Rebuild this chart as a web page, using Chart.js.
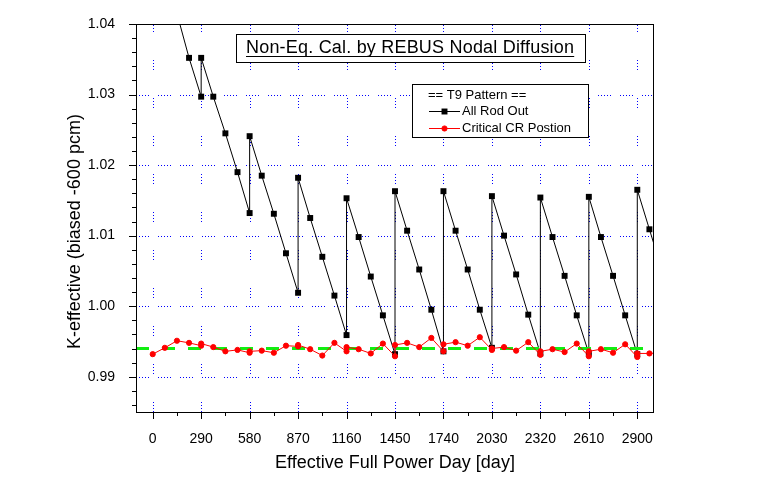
<!DOCTYPE html>
<html>
<head>
<meta charset="utf-8">
<script src="https://cdn.jsdelivr.net/npm/chart.js@4/dist/chart.umd.min.js"></script>
<style>
  html, body { margin: 0; padding: 0; background: #ffffff; }
  #c { display: block; }
</style>
</head>
<body>
<canvas id="c" width="765" height="479" style="width:765px;height:479px"></canvas>
<script>
// ---------------- DATA ----------------
const chartTitle = 'Non-Eq. Cal. by REBUS Nodal Diffusion';
const legendHeader = '== T9 Pattern ==';
const xAxisTitle = 'Effective Full Power Day [day]';
const yAxisTitle = 'K-effective (biased -600 pcm)';

const xTickValues = [0, 290, 580, 870, 1160, 1450, 1740, 2030, 2320, 2610, 2900];
const xMinorTickValues = [145, 435, 725, 1015, 1305, 1595, 1885, 2175, 2465, 2755];
const yTickValues = [0.99, 1.00, 1.01, 1.02, 1.03, 1.04];
const yMinorTickValues = [0.986, 0.988, 0.992, 0.994, 0.996, 0.998, 1.002, 1.004, 1.006, 1.008,
  1.012, 1.014, 1.016, 1.018, 1.022, 1.024, 1.026, 1.028, 1.032, 1.034, 1.036, 1.038];

const rodOutLabel = 'All Rod Out';
const rodOutDays = [0, 72.5, 145, 217.5, 290,
  290, 362.5, 435, 507.5, 580,
  580, 652.5, 725, 797.5, 870,
  870, 942.5, 1015, 1087.5, 1160,
  1160, 1232.5, 1305, 1377.5, 1450,
  1450, 1522.5, 1595, 1667.5, 1740,
  1740, 1812.5, 1885, 1957.5, 2030,
  2030, 2102.5, 2175, 2247.5, 2320,
  2320, 2392.5, 2465, 2537.5, 2610,
  2610, 2682.5, 2755, 2827.5, 2900,
  2900, 2972.5, 3045];
const rodOutK = [1.0535, 1.0475, 1.0415, 1.0352, 1.0297,
  1.0352, 1.0297, 1.0245, 1.0190, 1.0132,
  1.0241, 1.0185, 1.0131, 1.0075, 1.0019,
  1.0182, 1.0125, 1.0070, 1.0015, 0.9959,
  1.0153, 1.0098, 1.0042, 0.9987, 0.9932,
  1.0163, 1.0107, 1.0052, 0.9995, 0.9936,
  1.0163, 1.0107, 1.0052, 0.9995, 0.9941,
  1.0156, 1.0100, 1.0045, 0.9988, 0.9933,
  1.0154, 1.0098, 1.0043, 0.9987, 0.9933,
  1.0155, 1.0098, 1.0043, 0.9987, 0.9932,
  1.0165, 1.0109, 1.0053];

const criticalLabel = 'Critical CR Postion';
const criticalDays = [0, 72.5, 145, 217.5, 290, 290, 362.5, 435, 507.5, 580, 580,
  652.5, 725, 797.5, 870, 870, 942.5, 1015, 1087.5, 1160, 1160,
  1232.5, 1305, 1377.5, 1450, 1450, 1522.5, 1595, 1667.5, 1740, 1740,
  1812.5, 1885, 1957.5, 2030, 2030, 2102.5, 2175, 2247.5, 2320, 2320,
  2392.5, 2465, 2537.5, 2610, 2610, 2682.5, 2755, 2827.5, 2900, 2900,
  2972.5, 3045];
const criticalK = [0.9932, 0.9941, 0.9951, 0.9948, 0.9944, 0.9947, 0.9942, 0.9936, 0.9938, 0.9934, 0.9936,
  0.9937, 0.9934, 0.9944, 0.9943, 0.9945, 0.9939, 0.9930, 0.9948, 0.9936, 0.9942,
  0.9939, 0.9933, 0.9947, 0.9929, 0.9945, 0.9948, 0.9942, 0.9955, 0.9936, 0.9946,
  0.9949, 0.9944, 0.9956, 0.9938, 0.9940, 0.9942, 0.9937, 0.9949, 0.9931, 0.9936,
  0.9939, 0.9935, 0.9947, 0.9929, 0.9936, 0.9939, 0.9934, 0.9946, 0.9928, 0.9933,
  0.9933, 0.9934];

const targetK = 0.994;
const xRange = [-100, 3000];
const yRange = [0.985, 1.04];

// ---------------- CHART ----------------
Chart.defaults.font.family = "'Liberation Sans', Arial, sans-serif";
Chart.defaults.color = '#000000';

const toXY = (xs, ys) => xs.map((x, i) => ({ x: x, y: ys[i] }));

const decor = {
  id: 'decor',
  beforeDatasetsDraw(chart) {
    const { ctx, chartArea: a, scales: { x, y } } = chart;
    ctx.save();
    ctx.strokeStyle = '#0000ff';
    ctx.lineWidth = 1;
    ctx.setLineDash([1, 2, 1, 2, 1, 2, 1, 2, 1, 9]);
    yTickValues.forEach(v => {
      if (v >= yRange[1]) return;
      const py = Math.round(y.getPixelForValue(v)) + 0.5;
      ctx.beginPath(); ctx.moveTo(a.left, py); ctx.lineTo(a.right, py); ctx.stroke();
    });
    ctx.setLineDash([1, 2, 1, 2, 1, 2, 1, 28]);
    xTickValues.forEach(v => {
      const px = Math.round(x.getPixelForValue(v)) + 0.5;
      ctx.beginPath(); ctx.moveTo(px, a.bottom); ctx.lineTo(px, a.top); ctx.stroke();
    });
    ctx.restore();
  },
  afterDatasetsDraw(chart) {
    const { ctx, chartArea: a, scales: { x, y } } = chart;
    ctx.save();
    ctx.setLineDash([]);
    ctx.strokeStyle = '#000000';
    ctx.lineWidth = 1;
    // frame
    ctx.strokeRect(a.left + 0.5, a.top + 0.5, a.right - a.left - 1, a.bottom - a.top);
    // x ticks
    const tick = (px, len) => {
      ctx.beginPath(); ctx.moveTo(px, a.bottom); ctx.lineTo(px, a.bottom + len); ctx.stroke();
    };
    xTickValues.forEach(v => tick(Math.round(x.getPixelForValue(v)) + 0.5, 7));
    xMinorTickValues.forEach(v => tick(Math.round(x.getPixelForValue(v)) + 0.5, 4));
    const ytick = (py, len) => {
      ctx.beginPath(); ctx.moveTo(a.left, py); ctx.lineTo(a.left - len, py); ctx.stroke();
    };
    yTickValues.forEach(v => ytick(Math.round(y.getPixelForValue(v)) + 0.5, 7));
    yMinorTickValues.forEach(v => ytick(Math.round(y.getPixelForValue(v)) + 0.5, 4));

    // title box
    ctx.fillStyle = '#ffffff';
    ctx.fillRect(236.5, 34.5, 349, 28);
    ctx.strokeRect(236.5, 34.5, 349, 28);
    ctx.fillStyle = '#000000';
    ctx.font = "18px 'Liberation Sans', Arial, sans-serif";
    ctx.textAlign = 'left';
    ctx.textBaseline = 'alphabetic';
    if ('letterSpacing' in ctx) ctx.letterSpacing = '0.2px';
    ctx.fillText(chartTitle, 246, 53);
    const tw = ctx.measureText(chartTitle).width;
    if ('letterSpacing' in ctx) ctx.letterSpacing = '0px';
    ctx.beginPath(); ctx.moveTo(246, 56.5); ctx.lineTo(246 + tw, 56.5); ctx.stroke();

    // legend box
    ctx.fillStyle = '#ffffff';
    ctx.fillRect(412.5, 84.5, 176, 53);
    ctx.strokeRect(412.5, 84.5, 176, 53);
    ctx.fillStyle = '#000000';
    ctx.font = "13px 'Liberation Sans', Arial, sans-serif";
    ctx.textBaseline = 'middle';
    ctx.fillText(legendHeader, 428, 95.5);
    const ds = chart.data.datasets;
    const entries = [ds[2], ds[0]];
    const rows = [111, 128];
    entries.forEach((d, i) => {
      const cy = rows[i] + 0.5;
      ctx.strokeStyle = d.borderColor;
      ctx.lineWidth = 1;
      ctx.beginPath(); ctx.moveTo(429, cy); ctx.lineTo(460, cy); ctx.stroke();
      ctx.fillStyle = d.pointBackgroundColor;
      ctx.strokeStyle = d.pointBorderColor;
      ctx.lineWidth = d.pointBorderWidth || 0;
      Chart.helpers.drawPoint(ctx, {
        pointStyle: d.pointStyle, radius: d.pointRadius, borderWidth: d.pointBorderWidth
      }, 444.5, cy);
      ctx.fillStyle = '#000000';
      ctx.fillText(d.label, 462, rows[i]);
    });

    // axis titles
    ctx.font = "18px 'Liberation Sans', Arial, sans-serif";
    ctx.textAlign = 'center';
    ctx.textBaseline = 'middle';
    ctx.fillText(xAxisTitle, (a.left + a.right) / 2, 463);
    ctx.translate(75, 231.5);
    ctx.rotate(-Math.PI / 2);
    ctx.fillText(yAxisTitle, 0, 0);
    ctx.restore();
  }
};

new Chart(document.getElementById('c'), {
  type: 'line',
  data: {
    datasets: [
      {
        label: criticalLabel,
        data: toXY(criticalDays, criticalK),
        borderColor: '#ff0000',
        backgroundColor: '#ff0000',
        borderWidth: 1,
        pointStyle: 'circle',
        pointRadius: 2.6,
        pointBorderWidth: 1,
        pointBackgroundColor: '#ff0000',
        pointBorderColor: '#ff0000',
        tension: 0,
        order: 0
      },
      {
        label: 'target',
        data: toXY(xRange, [targetK, targetK]),
        borderColor: '#11ee11',
        borderWidth: 3,
        borderDash: [13, 13],
        pointRadius: 0,
        tension: 0,
        order: 1
      },
      {
        label: rodOutLabel,
        data: toXY(rodOutDays, rodOutK),
        borderColor: '#000000',
        backgroundColor: '#000000',
        borderWidth: 1,
        pointStyle: 'rect',
        pointRadius: 4.2,
        pointBorderWidth: 0,
        pointBackgroundColor: '#000000',
        pointBorderColor: '#000000',
        tension: 0,
        order: 2
      }
    ]
  },
  options: {
    responsive: false,
    animation: false,
    devicePixelRatio: 1,
    layout: { padding: { left: 0, top: 24, right: 111, bottom: 0 } },
    plugins: { legend: { display: false }, tooltip: { enabled: false } },
    scales: {
      x: {
        type: 'linear',
        min: xRange[0],
        max: xRange[1],
        grid: { display: false },
        border: { display: false },
        afterBuildTicks: s => { s.ticks = xTickValues.map(v => ({ value: v })); },
        afterFit: s => { s.height = 67; },
        ticks: {
          autoSkip: false,
          maxRotation: 0,
          padding: 11,
          color: '#000000',
          font: { size: 14 },
          callback: v => String(v)
        }
      },
      y: {
        type: 'linear',
        min: yRange[0],
        max: yRange[1],
        grid: { display: false },
        border: { display: false },
        afterBuildTicks: s => { s.ticks = yTickValues.map(v => ({ value: v })); },
        afterFit: s => { s.width = 136; },
        ticks: {
          padding: 13,
          color: '#000000',
          font: { size: 14 },
          callback: v => Number(v).toFixed(2)
        }
      }
    }
  },
  plugins: [decor]
});
</script>
</body>
</html>
